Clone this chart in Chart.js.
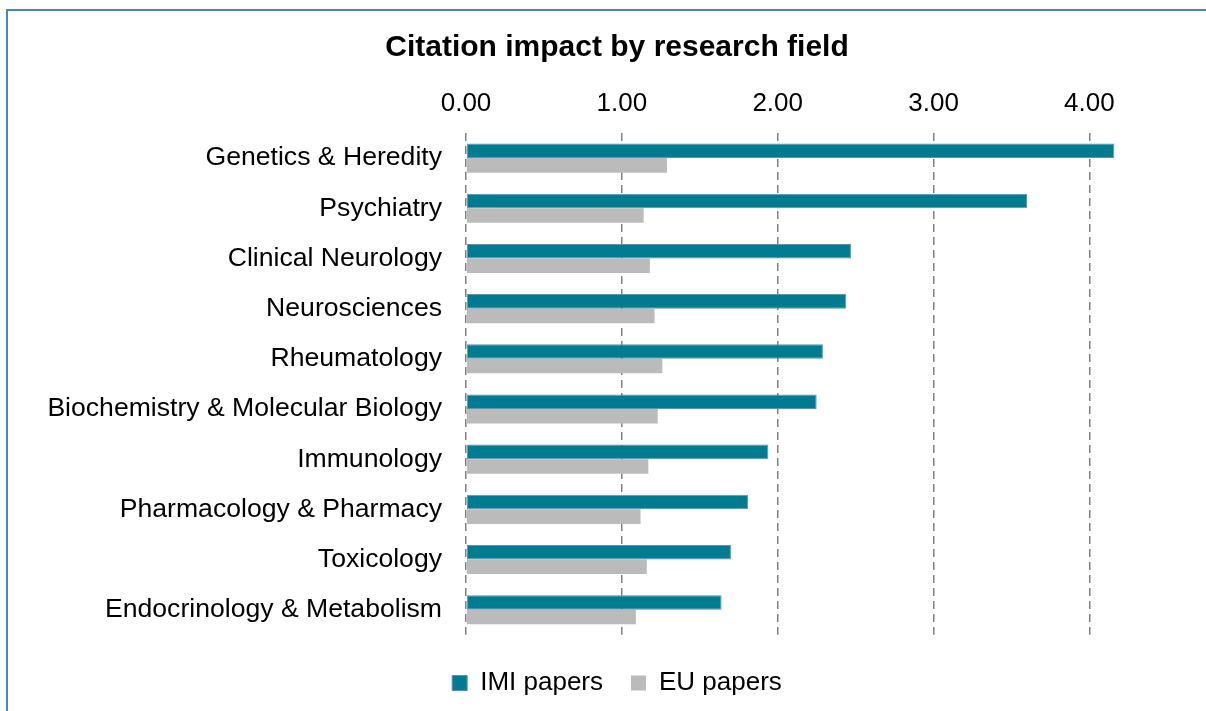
<!DOCTYPE html>
<html>
<head>
<meta charset="utf-8">
<script src="https://cdn.jsdelivr.net/npm/chart.js@4/dist/chart.umd.min.js"></script>
<style>
  html, body { margin: 0; padding: 0; background: #fff; overflow: hidden; }
  .frame {
    position: absolute; left: 6px; top: 9px;
    width: 1300px; height: 800px;
    border-top: 2px solid #4F81BD; border-left: 2px solid #4F81BD;
  }
  .chart-box { position: absolute; left: 9px; top: 12px; width: 1216px; height: 699px; }
</style>
</head>
<body>
<div class="frame"></div>
<div class="chart-box"><canvas id="chart"></canvas></div>
<script>
// research fields, top to bottom
const fields = [
  'Genetics & Heredity',
  'Psychiatry',
  'Clinical Neurology',
  'Neurosciences',
  'Rheumatology',
  'Biochemistry & Molecular Biology',
  'Immunology',
  'Pharmacology & Pharmacy',
  'Toxicology',
  'Endocrinology & Metabolism'
];
const imiPapers = [4.16, 3.60, 2.47, 2.44, 2.29, 2.25, 1.94, 1.81, 1.70, 1.64];
const euPapers  = [1.29, 1.14, 1.18, 1.21, 1.26, 1.23, 1.17, 1.12, 1.16, 1.09];
const xTicks = [0, 1, 2, 3, 4];

const FONT = 'Liberation Sans, Arial, sans-serif';

const ctx = document.getElementById('chart').getContext('2d');
new Chart(ctx, {
  type: 'bar',
  data: {
    labels: fields,
    datasets: [{
      label: 'IMI papers',
      data: imiPapers,
      backgroundColor: '#007B8F',
      borderColor: '#5A93B3',
      borderWidth: 1,
      borderSkipped: false,
      categoryPercentage: 0.58,
      barPercentage: 1.0
    }, {
      label: 'EU papers',
      data: euPapers,
      backgroundColor: '#BBBBBB',
      borderColor: '#BBBBBB',
      borderWidth: 0,
      categoryPercentage: 0.58,
      barPercentage: 1.0
    }]
  },
  options: {
    indexAxis: 'y',
    responsive: true,
    maintainAspectRatio: false,
    animation: false,
    layout: { padding: { left: 0, right: 0, top: 0, bottom: 5 } },
    scales: {
      x: {
        position: 'top',
        min: 0,
        max: 4.87,
        afterBuildTicks: axis => {
          axis.ticks = xTicks.map(v => ({ value: v }));
        },
        afterFit: scale => { scale.height = 50; },
        ticks: {
          padding: 14,
          color: '#000',
          font: { family: FONT, size: 26 },
          callback: v => Number(v).toFixed(2)
        },
        grid: {
          color: '#808080',
          lineWidth: 1.5,
          drawTicks: false
        },
        border: { display: false, dash: [8, 5] }
      },
      y: {
        afterFit: scale => { scale.width = 457; },
        ticks: {
          padding: 24,
          color: '#000',
          font: { family: FONT, size: 26.6 }
        },
        grid: { display: false, drawTicks: false },
        border: { display: false }
      }
    },
    plugins: {
      title: {
        display: true,
        text: 'Citation impact by research field',
        color: '#000',
        font: { family: FONT, size: 30, weight: 'bold' },
        padding: { top: 18, bottom: 17 }
      },
      legend: {
        position: 'bottom',
        title: {
          display: true,
          text: '',
          font: { size: 1 },
          padding: { top: 0, bottom: 6 }
        },
        labels: {
          color: '#000',
          font: { family: FONT, size: 26 },
          boxWidth: 15,
          boxHeight: 15,
          padding: 28
        }
      },
      tooltip: { enabled: false }
    }
  }
});
</script>
</body>
</html>
